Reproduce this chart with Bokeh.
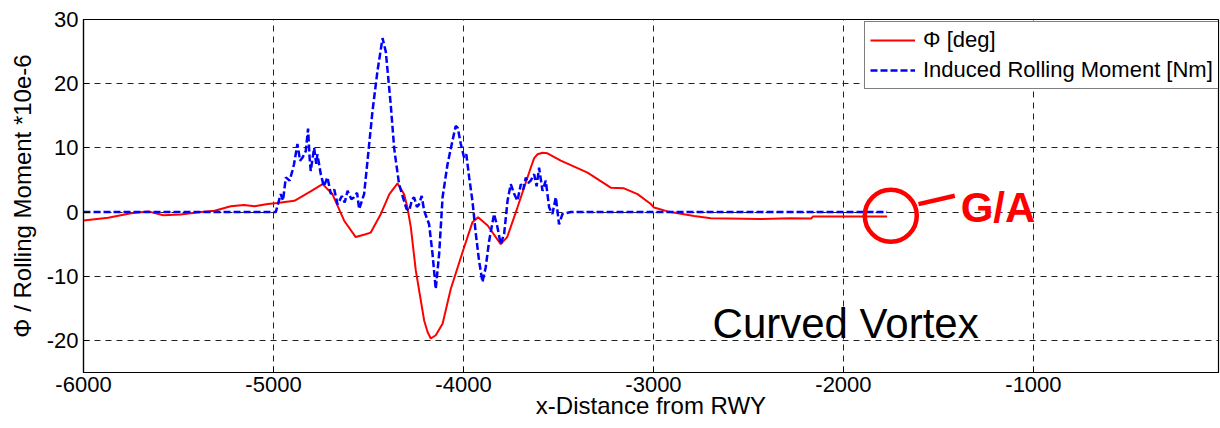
from bokeh.plotting import figure
from bokeh.models import FixedTicker, Range1d, Legend, LegendItem, PrintfTickFormatter
from bokeh.core.properties import value
from bokeh.embed import file_html
from bokeh.resources import INLINE

# ---- data ----
phi_x = [-6000, -5870, -5750, -5660, -5580, -5490, -5380, -5310, -5225, -5155,
         -5100, -5030, -4980, -4890, -4800, -4742, -4690, -4628, -4567, -4520,
         -4488, -4435, -4390, -4347, -4313, -4295, -4277, -4251, -4207, -4189,
         -4172, -4146, -4110, -4067, -4000, -3953, -3923, -3873, -3804, -3770,
         -3716, -3646, -3628, -3610, -3584, -3558, -3488, -3347, -3225, -3155,
         -3084, -3014, -2997, -2926, -2786, -2698, -2435, -2280, -2170, -2160,
         -1770]
phi_y = [-1.3, -0.9, -0.2, 0.1, -0.5, -0.4, 0.0, 0.2, 0.9, 1.1,
         0.9, 1.25, 1.4, 1.75, 3.3, 4.35, 2.8, -1.35, -3.9, -3.5,
         -3.2, -0.3, 2.8, 4.45, 2.8, 0.7, -2.4, -9.1, -16.9, -18.7,
         -19.7, -19.2, -17.4, -12.0, -5.8, -1.6, -0.8, -2.1, -5.0, -3.9,
         0.7, 6.9, 8.4, 9.0, 9.25, 9.15, 8.0, 6.15, 3.8, 3.7,
         2.8, 1.25, 0.7, 0.1, -0.6, -0.95, -1.1, -0.95, -1.0, -0.7,
         -0.7]

mom_x = [-6000, -4988, -4962, -4950, -4935, -4915, -4900, -4892, -4874, -4860,
         -4847, -4830, -4818, -4810, -4804, -4786, -4775, -4769, -4751, -4735,
         -4716, -4698, -4680, -4663, -4640, -4625, -4610, -4590, -4576, -4560,
         -4549, -4523, -4505, -4479, -4453, -4426, -4409, -4383, -4365, -4356,
         -4339, -4313, -4300, -4286, -4270, -4260, -4245, -4234, -4220, -4207,
         -4181, -4163, -4146, -4128, -4110, -4084, -4058, -4041, -4030, -4014,
         -3997, -3985, -3970, -3953, -3935, -3918, -3900, -3883, -3865, -3839,
         -3821, -3804, -3786, -3768, -3760, -3751, -3733, -3716, -3698, -3685,
         -3672, -3660, -3646, -3628, -3615, -3602, -3584, -3567, -3549, -3532,
         -3514, -3497, -3479, -3435, -1770]
mom_y = [0.0, 0.0, 2.8, 1.8, 5.4, 4.9, 6.5, 7.45, 10.6, 8.0,
         8.5, 9.5, 13.0, 8.5, 6.4, 10.0, 7.5, 9.0, 5.9, 4.0,
         5.4, 2.8, 3.5, 1.2, 2.5, 1.5, 3.3, 2.0, 2.3, 3.0,
         0.45, 2.8, 8.0, 15.7, 21.9, 27.1, 25.0, 16.8, 10.0, 8.0,
         4.35, 1.75, 0.5, 0.2, 2.0, 2.3, 0.8, 1.2, 2.5, 0.2,
         -1.9, -6.5, -12.0, -6.5, 2.3, 7.45, 11.1, 13.4, 13.1, 10.6,
         8.5, 9.0, 5.4, 1.75, -3.4, -7.6, -10.9, -8.6, -4.5, -0.3,
         -2.4, -5.0, -3.4, 1.75, 3.0, 4.35, 2.8, 1.75, 4.35, 3.5,
         5.4, 4.5, 4.9, 5.9, 4.0, 6.9, 3.3, 4.9, 0.7, -0.3,
         2.3, -1.9, -0.3, 0.0, 0.0]

x_ticks = [-6000, -5000, -4000, -3000, -2000, -1000]
y_ticks = [-20, -10, 0, 10, 20, 30]

FONT = "Liberation Sans"

p = figure(width=1220, height=428, output_backend="svg", toolbar_location=None,
           x_range=Range1d(-6000, -26), y_range=Range1d(-25, 30),
           min_border_left=83, min_border_right=2, min_border_top=19,
           min_border_bottom=56)
p.background_fill_color = "white"
p.border_fill_color = "white"
p.outline_line_color = "black"
p.outline_line_width = 1.2

for ax in (p.xaxis[0], p.yaxis[0]):
    ax.major_label_text_font = FONT
    ax.major_label_text_font_size = "22px"
    ax.major_label_text_color = "black"
    ax.axis_label_text_font = FONT
    ax.axis_label_text_font_size = "24px"
    ax.axis_label_text_font_style = "normal"
    ax.axis_label_text_color = "black"
    ax.major_tick_in = 6
    ax.major_tick_out = 0
    ax.minor_tick_in = 0
    ax.minor_tick_out = 0
    ax.axis_line_color = "black"
    ax.axis_line_width = 1.2
    ax.formatter = PrintfTickFormatter(format="%d")

p.xaxis.ticker = FixedTicker(ticks=x_ticks)
p.yaxis.ticker = FixedTicker(ticks=y_ticks)
p.xaxis.axis_label = "x-Distance from RWY"
p.yaxis.axis_label = "Φ / Rolling Moment *10e-6"
p.xaxis.major_label_standoff = 4
p.xaxis.axis_label_standoff = -3
p.yaxis.major_label_standoff = 5
p.yaxis.axis_label_standoff = 8

p.xgrid.ticker = FixedTicker(ticks=x_ticks)
p.ygrid.ticker = FixedTicker(ticks=y_ticks)
for g in (p.xgrid[0], p.ygrid[0]):
    g.grid_line_color = "#222222"
    g.grid_line_dash = "6 5"
    g.grid_line_width = 1

r_phi = p.line(phi_x, phi_y, line_color="red", line_width=2)
r_mom = p.line(mom_x, mom_y, line_color="blue", line_width=2.5, line_dash="7 3")

# G/A annotation
p.scatter(x=[-1751], y=[-0.57], size=52, marker="circle", fill_color=None,
          line_color="red", line_width=4.5)
p.line([-1605, -1414], [1.24, 2.53], line_color="red", line_width=4.5)
p.text(x=[-1383], y=[0.67], text=["G/A"], text_font=value(FONT),
       text_font_size="42px", text_font_style="bold", text_color="red",
       text_baseline="alphabetic", text_align="left")
p.text(x=[-2689], y=[-17.4], text=["Curved Vortex"], text_font=value(FONT),
       text_font_size="42px", text_color="black",
       text_baseline="alphabetic", text_align="left")

legend = Legend(items=[LegendItem(label="Φ [deg]", renderers=[r_phi]),
                       LegendItem(label="Induced Rolling Moment [Nm]", renderers=[r_mom])],
                location=(781, 283))
legend.label_text_font = FONT
legend.label_text_font_size = "22px"
legend.label_text_color = "black"
legend.glyph_width = 45
legend.glyph_height = 20
legend.label_height = 20
legend.label_standoff = 8
legend.padding = 5
legend.spacing = 4
legend.margin = 0
legend.border_line_color = "black"
legend.border_line_width = 1
legend.background_fill_alpha = 1
p.add_layout(legend)

open("out.html", "w").write(file_html(p, INLINE))
